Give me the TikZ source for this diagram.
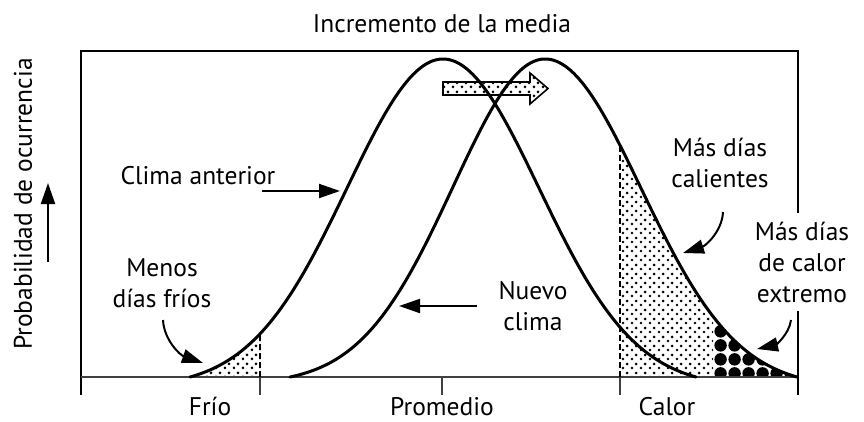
\documentclass[tikz,border=0pt]{standalone}
\usepackage{fontspec}
\setmainfont{PT Sans}
\usetikzlibrary{arrows.meta,patterns}
\pgfdeclarepatternformonly{sdots}{\pgfqpoint{0pt}{0pt}}{\pgfqpoint{8.5pt}{8.5pt}}{\pgfqpoint{8.5pt}{8.5pt}}{%
  \pgfpathcircle{\pgfqpoint{2.1pt}{2.1pt}}{1.55pt}%
  \pgfpathcircle{\pgfqpoint{6.35pt}{6.35pt}}{1.55pt}%
  \pgfusepath{fill}}
\pgfdeclarepatternformonly{bcircles}{\pgfqpoint{0pt}{0pt}}{\pgfqpoint{14pt}{14pt}}{\pgfqpoint{14pt}{14pt}}{%
  \pgfpathcircle{\pgfqpoint{7pt}{7pt}}{6.6pt}%
  \pgfusepath{fill}}
\begin{document}
\begin{tikzpicture}[x=1pt,y=-1pt,
  lbl/.style={font=\fontsize{25.5}{31}\selectfont, inner sep=0pt, align=center, anchor=base},
  bellcurve/.style={line width=3pt, line join=round, line cap=round},
  boxline/.style={line width=2.2pt},
  axisline/.style={line width=1.3pt, black!75},
  dashln/.style={line width=2pt, dash pattern=on 6pt off 3pt},
  arr/.style={line width=2pt, -{Triangle[length=21pt,width=14pt]}},
  declare function={
    gs(\t,\s,\w)=318*(exp(-0.5*(\t/\s)^2)-exp(-0.5*(\w/\s)^2))/(1-exp(-0.5*(\w/\s)^2));
    yo(\x)=377-gs(\x-443,96,253);
    yl(\x)=377-gs(\x-545,92,255);
    yr(\x)=377-gs(\x-545,96,252);
  }]
\useasboundingbox (0,0) rectangle (864,421);

% shaded regions
\fill[pattern=sdots] (190,377) -- plot[domain=190:260,samples=40] (\x,{yo(\x)}) -- (260,377) -- cycle;
\fill[pattern=sdots] (620,377) -- plot[domain=620:713,samples=50] (\x,{yr(\x)}) -- (713,377) -- cycle;
\fill[pattern=bcircles] (713,377) -- plot[domain=713:797,samples=50] (\x,{yr(\x)}) -- cycle;

% shift arrow
\draw[line width=1.6pt, pattern=sdots, line join=miter]
  (443,82) -- (530,82) -- (530,73) -- (548,88.5) -- (530,104) -- (530,95) -- (443,95) -- cycle;

% frame and axis
\draw[boxline] (81,395) -- (81,51) -- (798,51) -- (798,395);
\draw[axisline] (81,377) -- (798,377);
\foreach \tx in {260,442,620} \draw[axisline] (\tx,377) -- (\tx,395);

% curves
\draw[bellcurve] plot[domain=190:696,samples=160] (\x,{yo(\x)});
\draw[bellcurve] plot[domain=290:545,samples=90] (\x,{yl(\x)}) -- plot[domain=545:797,samples=90] (\x,{yr(\x)});

% dashed boundaries
\draw[dashln] (260,377) -- (260,{yo(260)});
\draw[dashln] (620,377) -- (620,{yr(620)});

% labels
\node[lbl] (title) at (442,32) {Incremento de la media};
\node[lbl, rotate=90, anchor=center] (prob) at (23,204) {Probabilidad de ocurrencia};
\node[lbl] (clant) at (198,184) {Clima anterior};
\node[lbl] (menos) at (162,307) {Menos\\días fríos};
\node[lbl] (nuevo) at (533,330) {Nuevo\\clima};
\node[lbl] (calien) at (720,187) {Más días\\calientes};
\node[lbl, fill=white, inner xsep=2pt, inner ysep=9pt] (extrem) at (802,302) {Más días\\de calor\\extremo};
\node[lbl] (frio) at (210,415) {Frío};
\node[lbl] (prom) at (442,415) {Promedio};
\node[lbl] (calor) at (667,415) {Calor};

% arrows
\coordinate (pa1) at (48,262); \coordinate (pa2) at (48,183);
\draw[arr] (pa1) -- (pa2);
\coordinate (ca1) at (262,191); \coordinate (ca2) at (340,191);
\draw[arr] (ca1) -- (ca2);
\coordinate (nc1) at (477,306); \coordinate (nc2) at (399,306);
\draw[arr] (nc1) -- (nc2);
\coordinate (me1) at (163,320); \coordinate (me2) at (203,363);
\draw[arr] (me1) .. controls (164,340) and (180,355) .. (me2);
\coordinate (cl1) at (723,212); \coordinate (cl2) at (683,253);
\draw[arr] (cl1) .. controls (722,232) and (705,246) .. (cl2);
\coordinate (ex1) at (791,320); \coordinate (ex2) at (757,349);
\draw[arr] (ex1) .. controls (789,335) and (775,345) .. (ex2);
\end{tikzpicture}
\end{document}
